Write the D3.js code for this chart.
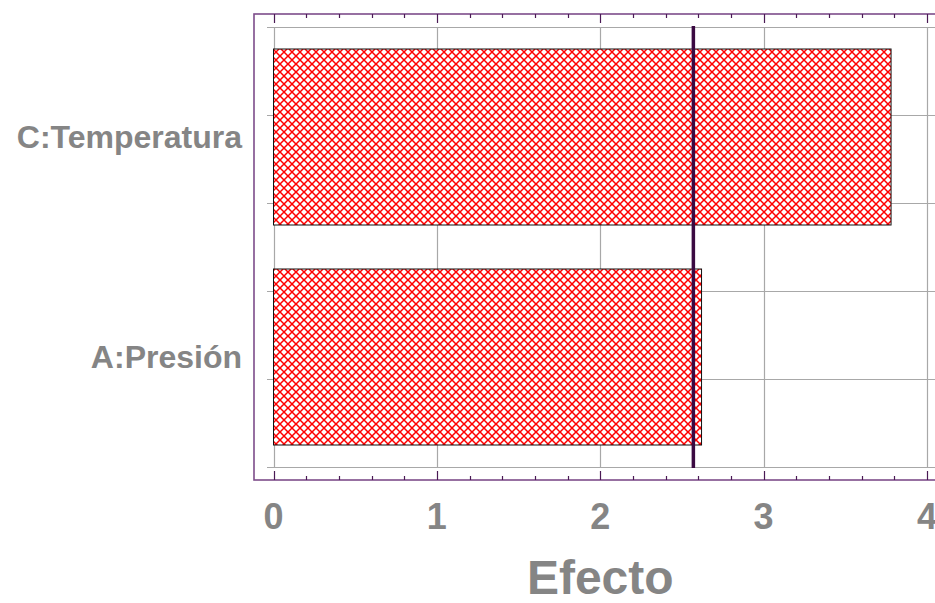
<!DOCTYPE html>
<html>
<head>
<meta charset="utf-8">
<script src="https://cdn.jsdelivr.net/npm/d3@7"></script>
<style>
  body { margin: 0; background: #fff; }
  svg { display: block; font-family: 'Liberation Sans', Arial, sans-serif; }
</style>
</head>
<body>
<svg id="chart" width="935" height="603"></svg>
<script>
// DATA
const factors = ['C:Temperatura', 'A:Presión'];
const effects = [3.78, 2.62];
const criticalValue = 2.57;
const xTicks = [0, 1, 2, 3, 4];
const xLabel = 'Efecto';

const svg = d3.select('#chart');

const frame = { left: 254, top: 14, bottom: 480, right: 945 };
const plot = { left: 267, top: 27, bottom: 467, right: 945 };

// SCALES
const xScale = d3.scaleLinear().domain([0, 4]).range([273.5, 927]);

const yScale = d3
  .scaleBand()
  .domain(factors)
  .range([plot.top, plot.bottom])
  .paddingInner(0.2)
  .paddingOuter(0.1);

const yGrid = d3.scaleLinear().domain([0, 5]).range([plot.bottom, plot.top]);

// hatch pattern
const defs = svg.append('defs');
const pat = defs
  .append('pattern')
  .attr('id', 'hatch')
  .attr('patternUnits', 'userSpaceOnUse')
  .attr('width', 8)
  .attr('height', 8);
pat.append('rect').attr('width', 8).attr('height', 8).attr('fill', '#fff');
pat
  .append('path')
  .attr('d', 'M-1,-1L9,9M-1,9L9,-1')
  .attr('stroke', '#ff0000')
  .attr('stroke-width', 1.5);

// GRID
svg
  .append('g')
  .selectAll('line')
  .data(yGrid.ticks(5))
  .join('line')
  .attr('x1', plot.left)
  .attr('x2', plot.right)
  .attr('y1', (d) => Math.round(yGrid(d)) + 0.5)
  .attr('y2', (d) => Math.round(yGrid(d)) + 0.5)
  .attr('stroke', '#a8a8a8')
  .attr('stroke-width', 1.2);

svg
  .append('g')
  .selectAll('line')
  .data(xTicks)
  .join('line')
  .attr('x1', (d) => Math.round(xScale(d)) + 0.5)
  .attr('x2', (d) => Math.round(xScale(d)) + 0.5)
  .attr('y1', plot.top)
  .attr('y2', plot.bottom)
  .attr('stroke', '#a8a8a8')
  .attr('stroke-width', 1.2);

// BARS
svg
  .append('g')
  .selectAll('rect')
  .data(factors)
  .join('rect')
  .attr('x', xScale(0))
  .attr('y', (d) => yScale(d))
  .attr('width', (d, i) => xScale(effects[i]) - xScale(0))
  .attr('height', yScale.bandwidth())
  .attr('fill', 'url(#hatch)')
  .attr('stroke', '#111')
  .attr('stroke-width', 1);

// CRITICAL LINE
svg
  .append('line')
  .attr('x1', xScale(criticalValue))
  .attr('x2', xScale(criticalValue))
  .attr('y1', plot.top - 1)
  .attr('y2', plot.bottom + 1)
  .attr('stroke', '#3b0a42')
  .attr('stroke-width', 3.5);

// OUTER FRAME
svg
  .append('rect')
  .attr('x', frame.left)
  .attr('y', frame.top)
  .attr('width', frame.right - frame.left)
  .attr('height', frame.bottom - frame.top)
  .attr('fill', 'none')
  .attr('stroke', '#7d4d8a')
  .attr('stroke-width', 1.6);

// frame ticks (top and bottom), minor every 0.2
const minor = d3.range(0, 4.0001, 0.2);
const isMajor = (d) => Math.abs(d - Math.round(d)) < 1e-6;

svg
  .append('g')
  .selectAll('line')
  .data(minor)
  .join('line')
  .attr('x1', (d) => Math.round(xScale(d)) + 0.5)
  .attr('x2', (d) => Math.round(xScale(d)) + 0.5)
  .attr('y1', frame.top)
  .attr('y2', (d) => frame.top + (isMajor(d) ? 9 : 4))
  .attr('stroke', '#4a1a55')
  .attr('stroke-width', 1.2);

svg
  .append('g')
  .selectAll('line')
  .data(minor)
  .join('line')
  .attr('x1', (d) => Math.round(xScale(d)) + 0.5)
  .attr('x2', (d) => Math.round(xScale(d)) + 0.5)
  .attr('y1', frame.bottom)
  .attr('y2', (d) => frame.bottom - (isMajor(d) ? 9 : 4))
  .attr('stroke', '#4a1a55')
  .attr('stroke-width', 1.2);

// TICK LABELS
svg
  .append('g')
  .selectAll('text')
  .data(xTicks)
  .join('text')
  .attr('x', (d) => xScale(d))
  .attr('y', 529)
  .attr('text-anchor', 'middle')
  .attr('font-size', 36)
  .attr('font-weight', 'bold')
  .attr('fill', '#858585')
  .text((d) => d);

svg
  .append('g')
  .selectAll('text')
  .data(factors)
  .join('text')
  .attr('x', 242)
  .attr('y', (d) => yScale(d) + yScale.bandwidth() / 2 + 11)
  .attr('text-anchor', 'end')
  .attr('font-size', 32)
  .attr('font-weight', 'bold')
  .attr('fill', '#858585')
  .text((d) => d);

svg
  .append('text')
  .attr('x', (xScale(0) + xScale(4)) / 2)
  .attr('y', 594)
  .attr('text-anchor', 'middle')
  .attr('font-size', 48)
  .attr('font-weight', 'bold')
  .attr('fill', '#858585')
  .text(xLabel);
</script>
</body>
</html>
